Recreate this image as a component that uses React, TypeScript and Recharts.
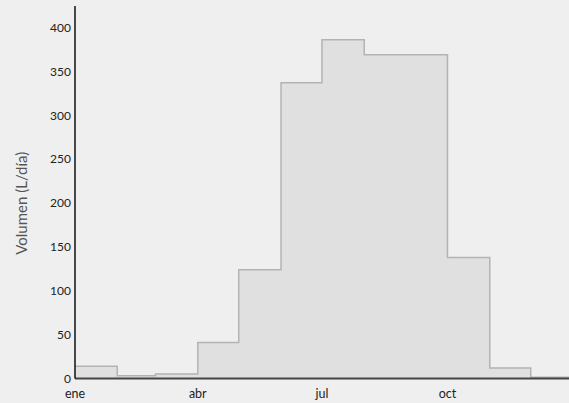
import React from "react";
import { AreaChart, Area, XAxis, YAxis } from "recharts";

const months = ["ene", "feb", "mar", "abr", "may", "jun", "jul", "ago", "sep", "oct", "nov", "dic"];
const monthStartDay = [0, 31, 59, 90, 120, 151, 181, 212, 243, 273, 304, 334];
const yearEndDay = 365;
const volume = [14, 3, 5, 41, 124, 337, 386, 369, 369, 138, 12, 1.5];
const xTickDays = [0, 90, 181, 273];
const xTickLabels = ["ene", "abr", "jul", "oct"];
const yTicks = [0, 50, 100, 150, 200, 250, 300, 350, 400];

const data = [
  ...months.map((m, i) => ({ day: monthStartDay[i], month: m, v: volume[i] })),
  { day: yearEndDay, month: "fin", v: volume[volume.length - 1] },
];
const yMax = Math.max(...volume) * 1.1;

const FONT = "Lato, 'Open Sans', sans-serif";

export default function App() {
  return (
    <div
      style={{
        position: "absolute",
        left: 0,
        top: 0,
        width: 569,
        height: 403,
        overflow: "hidden",
        background: "#efefef",
      }}
    >
      <AreaChart
        width={580}
        height={403}
        data={data}
        margin={{ top: 6, right: 7, bottom: 0, left: 0 }}
      >
        <XAxis
          dataKey="day"
          type="number"
          domain={[0, yearEndDay]}
          ticks={xTickDays}
          tickFormatter={(d: number) => xTickLabels[xTickDays.indexOf(d)] ?? ""}
          tickLine={false}
          tickSize={0}
          tickMargin={11}
          height={24.5}
          axisLine={{ stroke: "#444", strokeWidth: 2 }}
          tick={{ fill: "#222", fontSize: 12.5, fontFamily: FONT }}
          interval={0}
        />
        <YAxis
          type="number"
          domain={[0, yMax]}
          ticks={yTicks}
          width={75}
          tickLine={false}
          tickSize={0}
          tickMargin={4}
          axisLine={{ stroke: "#111", strokeWidth: 1.5 }}
          tick={{ fill: "#222", fontSize: 12, fontFamily: FONT }}
          interval={0}
          label={{
            value: "Volumen (L/día)",
            angle: -90,
            position: "insideLeft",
            dx: 17,
            dy: 11,
            style: { fill: "#555", fontSize: 15, fontFamily: FONT, textAnchor: "middle" },
          }}
        />
        <Area
          type="stepAfter"
          dataKey="v"
          stroke="#b3b3b3"
          strokeWidth={1.5}
          fill="#e0e0e0"
          fillOpacity={1}
          isAnimationActive={false}
          dot={false}
          activeDot={false}
        />
      </AreaChart>
    </div>
  );
}
